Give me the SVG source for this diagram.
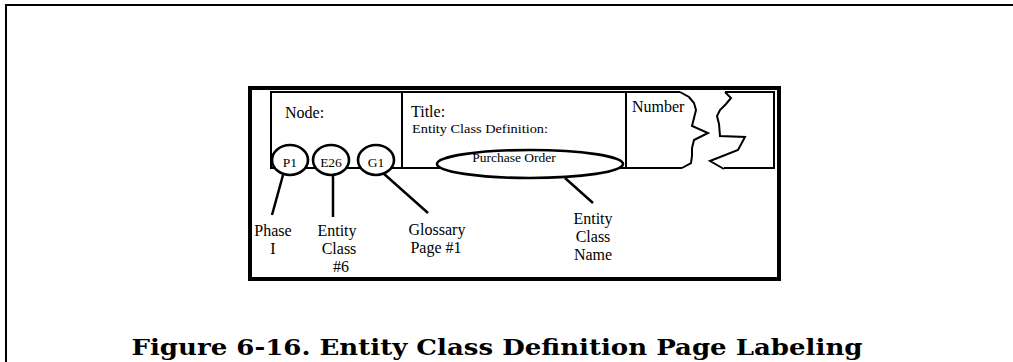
<svg xmlns="http://www.w3.org/2000/svg" width="1013" height="362" viewBox="0 0 1013 362">
<style>
.ln{fill:none;stroke:#000;stroke-width:2;stroke-linejoin:miter}
.ld{fill:none;stroke:#000;stroke-width:2.5;stroke-linecap:butt}
.cir{fill:#fff;stroke:#000;stroke-width:2.6}
.t{font-family:"Liberation Serif","Times New Roman",serif;fill:#000}
.lb{font-family:"Liberation Serif","Times New Roman",serif;font-size:16px;fill:#000;text-anchor:middle}
.cap{font-family:"DejaVu Serif","Liberation Serif",serif;font-weight:bold;font-size:22px;fill:#000;text-anchor:middle}
</style>
<rect width="1013" height="362" fill="#fff"/>
<g id="page-frame">
<path class="ln" d="M6,362 V5 H1013"/>
</g>
<g id="outer-box">
<rect x="250" y="88" width="529" height="191" fill="none" stroke="#000" stroke-width="4"/>
</g>
<g id="form">
<path class="ln" d="M680,92 H271 V168 H682"/>
<path class="ln" d="M725,92 H774 V168 H724"/>
<line class="ln" x1="402" y1="92" x2="402" y2="168"/>
<line class="ln" x1="626" y1="92" x2="626" y2="168"/>
<polyline class="ln" points="680,92 689,97 694,103 696,110 694,118 692,126 708,133 694,140 692,148 692,156 691,163 682,168"/>
<polyline class="ln" points="725,92 731,98 726,104 720,110 717,116 719,124 720,136 745,137 738,150 710,161 724,169"/>
</g>
<g id="node-cell">
<text class="t" x="285" y="118" font-size="16">Node:</text>
</g>
<g id="title-cell">
<text class="t" x="411" y="117" font-size="16">Title:</text>
<text class="t" x="412" y="133" font-size="13" textLength="136" lengthAdjust="spacingAndGlyphs">Entity Class Definition:</text>
</g>
<g id="number-cell">
<text class="t" x="632" y="112" font-size="16">Number</text>
</g>
<g id="p1">
<ellipse class="cir" cx="290" cy="160" rx="18" ry="15"/>
<text class="t" x="290" y="167" font-size="13.5" text-anchor="middle">P1</text>
</g>
<g id="e26">
<ellipse class="cir" cx="331" cy="160" rx="18" ry="15"/>
<text class="t" x="331" y="167" font-size="13.5" text-anchor="middle">E26</text>
</g>
<g id="g1">
<ellipse class="cir" cx="376" cy="160" rx="18" ry="15"/>
<text class="t" x="376" y="167" font-size="13.5" text-anchor="middle">G1</text>
</g>
<g id="purchase-order">
<ellipse class="cir" cx="530" cy="164" rx="93" ry="14"/>
<text class="t" x="514" y="162" font-size="13.5" text-anchor="middle">Purchase Order</text>
</g>
<g id="connectors">
<line class="ld" x1="283" y1="175" x2="272" y2="215"/>
<line class="ld" x1="333" y1="175" x2="333" y2="217"/>
<line class="ld" x1="383" y1="173" x2="428" y2="213"/>
<line class="ld" x1="565" y1="178" x2="593" y2="203"/>
</g>
<g id="label-phase">
<text class="lb" x="273" y="236">Phase</text>
<text class="lb" x="273" y="254">I</text>
</g>
<g id="label-entity-class">
<text class="lb" x="337" y="236">Entity</text>
<text class="lb" x="339" y="254">Class</text>
<text class="lb" x="341" y="272">#6</text>
</g>
<g id="label-glossary">
<text class="lb" x="437" y="235">Glossary</text>
<text class="lb" x="436" y="253">Page #1</text>
</g>
<g id="label-entity-class-name">
<text class="lb" x="593" y="224">Entity</text>
<text class="lb" x="593" y="242">Class</text>
<text class="lb" x="593" y="260">Name</text>
</g>
<g id="caption">
<text class="cap" x="497" y="355" textLength="731" lengthAdjust="spacingAndGlyphs">Figure 6-16.  Entity Class Definition Page Labeling</text>
</g>
</svg>
